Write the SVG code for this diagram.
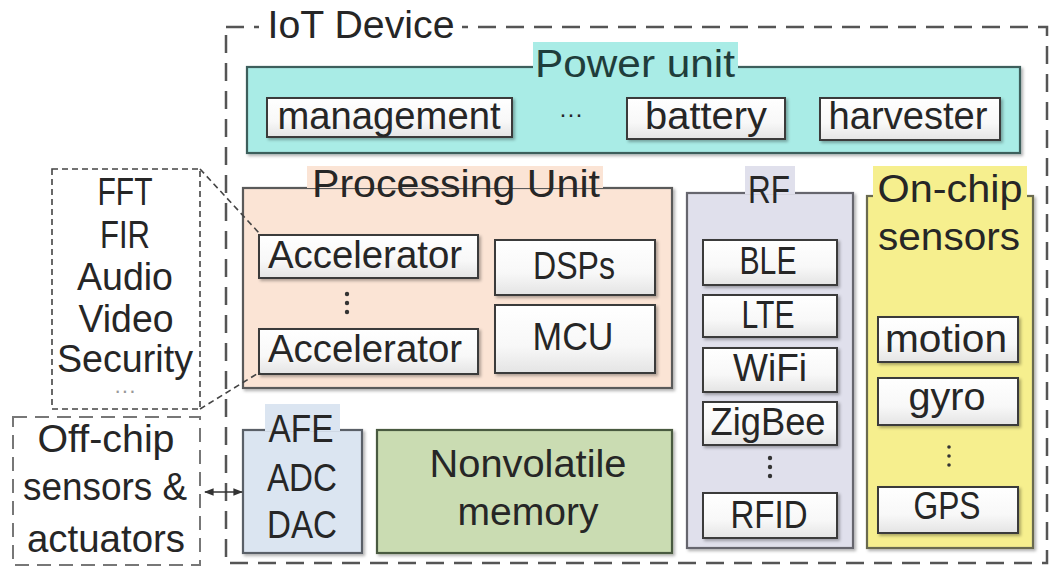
<svg xmlns="http://www.w3.org/2000/svg" width="1049" height="567" viewBox="0 0 1049 567">
<defs>
<linearGradient id="wg" x1="0" y1="0" x2="0" y2="1">
<stop offset="0" stop-color="#ffffff"/><stop offset="0.6" stop-color="#f8f8f8"/><stop offset="1" stop-color="#e4e4e4"/>
</linearGradient>
<filter id="sh" x="-5%" y="-5%" width="115%" height="120%">
<feDropShadow dx="2" dy="2" stdDeviation="1.5" flood-color="#000" flood-opacity="0.3"/>
</filter>
<marker id="ah" viewBox="0 0 10 10" refX="9" refY="5" markerWidth="6" markerHeight="6" orient="auto-start-reverse">
<path d="M0,1 L10,5 L0,9 z" fill="#333"/>
</marker>
<style>
text{font-family:"Liberation Sans",Arial,sans-serif;font-size:38px;fill:#262626;text-anchor:middle;}
.item{fill:url(#wg);stroke:#3a3a3a;stroke-width:2;filter:url(#sh);}
.grp{stroke-width:2.2;filter:url(#sh);}
.dots{fill:#333;}
</style>
</defs>
<rect width="1049" height="567" fill="#fff"/>

<g id="iot-device">
<rect x="226" y="27" width="821" height="536" fill="none" stroke="#555" stroke-width="2.5" stroke-dasharray="18 10"/>
<rect x="259" y="6" width="203" height="42" fill="#fff"/>
<text x="361" y="38" textLength="187" lengthAdjust="spacingAndGlyphs">IoT Device</text>
</g>

<g id="power-unit">
<rect class="grp" x="247" y="67" width="773" height="86" fill="#a9ece6" stroke="#3e5e5c"/>
<rect x="533" y="42" width="205" height="38" fill="#a9ece6"/>
<text x="635" y="77" textLength="200" lengthAdjust="spacingAndGlyphs" style="fill:#1f3d3b">Power unit</text>
<g id="management"><rect class="item" x="267" y="98" width="245" height="39"/><text x="389" y="129" textLength="223" lengthAdjust="spacingAndGlyphs">management</text></g>
<text x="571" y="122" style="font-size:24px">···</text>
<g id="battery"><rect class="item" x="627" y="98" width="158" height="41"/><text x="706" y="129" textLength="122" lengthAdjust="spacingAndGlyphs">battery</text></g>
<g id="harvester"><rect class="item" x="820" y="98" width="180" height="42"/><text x="908" y="129" textLength="159" lengthAdjust="spacingAndGlyphs">harvester</text></g>
</g>

<g id="processing-unit">
<rect class="grp" x="243" y="188" width="429" height="200" fill="#fbe4d5" stroke="#5a5a5a"/>
<rect x="307" y="166" width="296" height="22" fill="#fbe4d5"/>
<text x="456" y="197" textLength="288" lengthAdjust="spacingAndGlyphs">Processing Unit</text>
<g id="accelerator-1"><rect class="item" x="259" y="235" width="219" height="43"/><text x="365" y="268" textLength="194" lengthAdjust="spacingAndGlyphs">Accelerator</text></g>
<g class="dots"><circle cx="347" cy="294" r="2.2"/><circle cx="347" cy="303" r="2.2"/><circle cx="347" cy="312" r="2.2"/></g>
<g id="accelerator-2"><rect class="item" x="259" y="329" width="219" height="45"/><text x="365" y="362" textLength="194" lengthAdjust="spacingAndGlyphs">Accelerator</text></g>
<g id="dsps"><rect class="item" x="495" y="240" width="160" height="55"/><text x="574" y="279" textLength="82" lengthAdjust="spacingAndGlyphs">DSPs</text></g>
<g id="mcu"><rect class="item" x="495" y="305" width="160" height="68"/><text x="573" y="350" textLength="81" lengthAdjust="spacingAndGlyphs">MCU</text></g>
</g>

<g id="rf">
<rect class="grp" x="687" y="193" width="166" height="355" fill="#e0e0ec" stroke="#66666e"/>
<rect x="745" y="166" width="50" height="28" fill="#e0e0ec"/>
<text x="769" y="203" textLength="42" lengthAdjust="spacingAndGlyphs">RF</text>
<g id="ble"><rect class="item" x="703" y="240" width="134" height="45"/><text x="768" y="274" textLength="57" lengthAdjust="spacingAndGlyphs">BLE</text></g>
<g id="lte"><rect class="item" x="703" y="295" width="134" height="42"/><text x="768" y="328" textLength="53" lengthAdjust="spacingAndGlyphs">LTE</text></g>
<g id="wifi"><rect class="item" x="703" y="348" width="134" height="44"/><text x="770" y="381" textLength="74" lengthAdjust="spacingAndGlyphs">WiFi</text></g>
<g id="zigbee"><rect class="item" x="703" y="402" width="134" height="43"/><text x="768" y="435" textLength="115" lengthAdjust="spacingAndGlyphs">ZigBee</text></g>
<g class="dots"><circle cx="770" cy="458" r="2.2"/><circle cx="770" cy="467" r="2.2"/><circle cx="770" cy="476" r="2.2"/></g>
<g id="rfid"><rect class="item" x="703" y="493" width="134" height="45"/><text x="769" y="528" textLength="77" lengthAdjust="spacingAndGlyphs">RFID</text></g>
</g>

<g id="on-chip-sensors">
<rect class="grp" x="867" y="196" width="166" height="352" fill="#f6ef8e" stroke="#6a6a50"/>
<rect x="873" y="166" width="154" height="32" fill="#f6ef8e"/>
<text x="950" y="202" textLength="145" lengthAdjust="spacingAndGlyphs">On-chip</text>
<text x="949" y="250" textLength="142" lengthAdjust="spacingAndGlyphs">sensors</text>
<g id="motion"><rect class="item" x="878" y="317" width="140" height="45"/><text x="946" y="352" textLength="122" lengthAdjust="spacingAndGlyphs">motion</text></g>
<g id="gyro"><rect class="item" x="878" y="378" width="140" height="47"/><text x="947" y="410" textLength="77" lengthAdjust="spacingAndGlyphs">gyro</text></g>
<g class="dots"><circle cx="949" cy="447" r="1.8"/><circle cx="949" cy="456" r="1.8"/><circle cx="949" cy="465" r="1.8"/></g>
<g id="gps"><rect class="item" x="878" y="487" width="140" height="46"/><text x="947" y="519" textLength="67" lengthAdjust="spacingAndGlyphs">GPS</text></g>
</g>

<g id="afe">
<rect class="grp" x="243" y="430" width="119" height="123" fill="#dbe5f1" stroke="#5a6068"/>
<rect x="265" y="404" width="75" height="27" fill="#dbe5f1"/>
<text x="301" y="442" textLength="65" lengthAdjust="spacingAndGlyphs">AFE</text>
<text x="302" y="491" textLength="70" lengthAdjust="spacingAndGlyphs">ADC</text>
<text x="302" y="538" textLength="70" lengthAdjust="spacingAndGlyphs">DAC</text>
</g>

<g id="nonvolatile-memory">
<rect class="grp" x="377" y="430" width="295" height="123" fill="#cadcb2" stroke="#4a5a40"/>
<text x="528" y="477" textLength="197" lengthAdjust="spacingAndGlyphs">Nonvolatile</text>
<text x="528" y="525" textLength="141" lengthAdjust="spacingAndGlyphs">memory</text>
</g>

<g id="accelerator-types">
<rect x="52" y="169" width="148" height="240" fill="#fff" stroke="#444" stroke-width="1.6" stroke-dasharray="6 4"/>
<text x="125" y="205" textLength="55" lengthAdjust="spacingAndGlyphs">FFT</text>
<text x="125" y="248" textLength="50" lengthAdjust="spacingAndGlyphs">FIR</text>
<text x="125" y="290" textLength="96" lengthAdjust="spacingAndGlyphs">Audio</text>
<text x="126" y="332" textLength="95" lengthAdjust="spacingAndGlyphs">Video</text>
<text x="125" y="372" textLength="136" lengthAdjust="spacingAndGlyphs">Security</text>
<text x="125" y="398" style="font-size:22px;fill:#999">···</text>
</g>

<g id="off-chip">
<rect x="13" y="417" width="187" height="148" fill="#fff" stroke="#777" stroke-width="2" stroke-dasharray="14 8"/>
<text x="106" y="452" textLength="137" lengthAdjust="spacingAndGlyphs">Off-chip</text>
<text x="105" y="500" textLength="164" lengthAdjust="spacingAndGlyphs">sensors &amp;</text>
<text x="106" y="552" textLength="158" lengthAdjust="spacingAndGlyphs">actuators</text>
</g>

<g id="connectors" fill="none" stroke="#444" stroke-width="1.6">
<line x1="200" y1="169" x2="260" y2="234" stroke-dasharray="6 4"/>
<line x1="200" y1="409" x2="260" y2="372" stroke-dasharray="6 4"/>
<line x1="205" y1="492" x2="242" y2="492" stroke="#333" marker-start="url(#ah)" marker-end="url(#ah)"/>
</g>
</svg>
